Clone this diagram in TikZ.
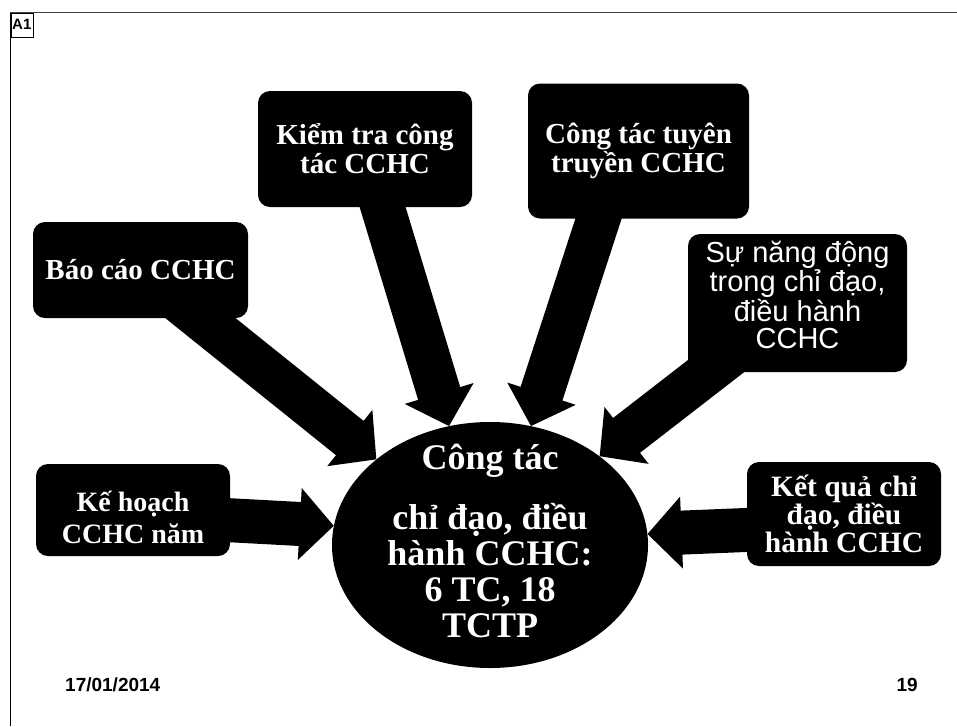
\documentclass[tikz,border=0pt]{standalone}
\usepackage{fontspec}
\setmainfont{Liberation Serif}
\newfontfamily\arialfont{Liberation Sans}
\usetikzlibrary{calc,backgrounds,shapes.geometric}
% block arrow from node #1 to point #2
\newcommand\blockarrow[2]{%
  \path ($(#2)!34pt!(#1)$) coordinate (hd);
  \fill[black] ($(#1)!22pt!-90:(#2)$) -- ($(hd)!22pt!-90:(#2)$) -- ($(hd)!36pt!-90:(#2)$)
    -- (#2) -- ($(hd)!36pt!90:(#2)$) -- ($(hd)!22pt!90:(#2)$) -- ($(#1)!22pt!90:(#2)$) -- cycle;
}
\begin{document}
\begin{tikzpicture}[x=1pt,y=-1pt,
  box/.style={fill=black, rounded corners=12pt, text=white, align=center, inner sep=0pt,
    font=\bfseries\fontsize{29}{29}\selectfont},
  foot/.style={font=\arialfont\bfseries\fontsize{19}{19}\selectfont, inner sep=0pt}]
\useasboundingbox (0,0) rectangle (957,726);
% frame
\draw[line width=1.5pt] (10.5,13) -- (10.5,726);
\draw[line width=0.8pt, black!75] (10,12.5) -- (957,12.5);
\node[draw, line width=0.6pt, anchor=north west, minimum width=22pt, minimum height=24pt, inner sep=0pt,
  font=\arialfont\bfseries\fontsize{15}{15}\selectfont] (a1) at (10.5,12.5) {A1};
% boxes
\node[box, minimum width=215pt, minimum height=96pt] (bao) at (140.5,270) {Báo cáo CCHC};
\node[box, minimum width=214pt, minimum height=116pt] (kiem) at (365,149) {Kiểm tra công\\tác CCHC};
\node[box, minimum width=221pt, minimum height=135pt] (tuyen) at (638.5,151) {Công tác tuyên\\truyền CCHC};
\node[box, font=\arialfont\fontsize{29}{27.7}\selectfont, minimum width=219pt, minimum height=138pt] (nang) at (797.5,303) {Sự năng động\\trong chỉ đạo,\\điều hành\\CCHC\\[-12pt]\mbox{}};
\node[box, font=\bfseries\fontsize{28}{32}\selectfont, minimum width=194pt, minimum height=92pt] (kehoach) at (133,510) {\mbox{}\\[3pt]Kế hoạch\\CCHC năm};
\node[box, font=\bfseries\fontsize{29.5}{28}\selectfont, minimum width=194pt, minimum height=104pt] (ketqua) at (844,514) {Kết quả chỉ\\đạo, điều\\hành CCHC};
% centre
\node[ellipse, fill=black, minimum width=316pt, minimum height=246pt, inner sep=0pt] (core) at (490,545) {};
\node[text=white, align=center, inner sep=0pt, font=\bfseries\fontsize{36}{36}\selectfont] (coretext) at (490,541)
  {Công tác\\[24pt]chỉ đạo, điều\\hành CCHC:\\6 TC, 18\\TCTP};
% arrows
\begin{scope}[on background layer]
\fill[white] (0,0) rectangle (957,726);
\blockarrow{bao.center}{core.143}
\blockarrow{kiem.center}{core.109}
\blockarrow{[xshift=-18pt]tuyen.center}{core.71}
\blockarrow{nang.center}{core.39}
\blockarrow{[yshift=-5pt]kehoach.center}{core.173}
\blockarrow{[yshift=-12pt]ketqua.center}{core.4}
\end{scope}
% footer
\node[foot, anchor=base west] (date) at (65,691) {17/01/2014};
\node[foot, anchor=base east] (page) at (918,691) {19};
\end{tikzpicture}
\end{document}
